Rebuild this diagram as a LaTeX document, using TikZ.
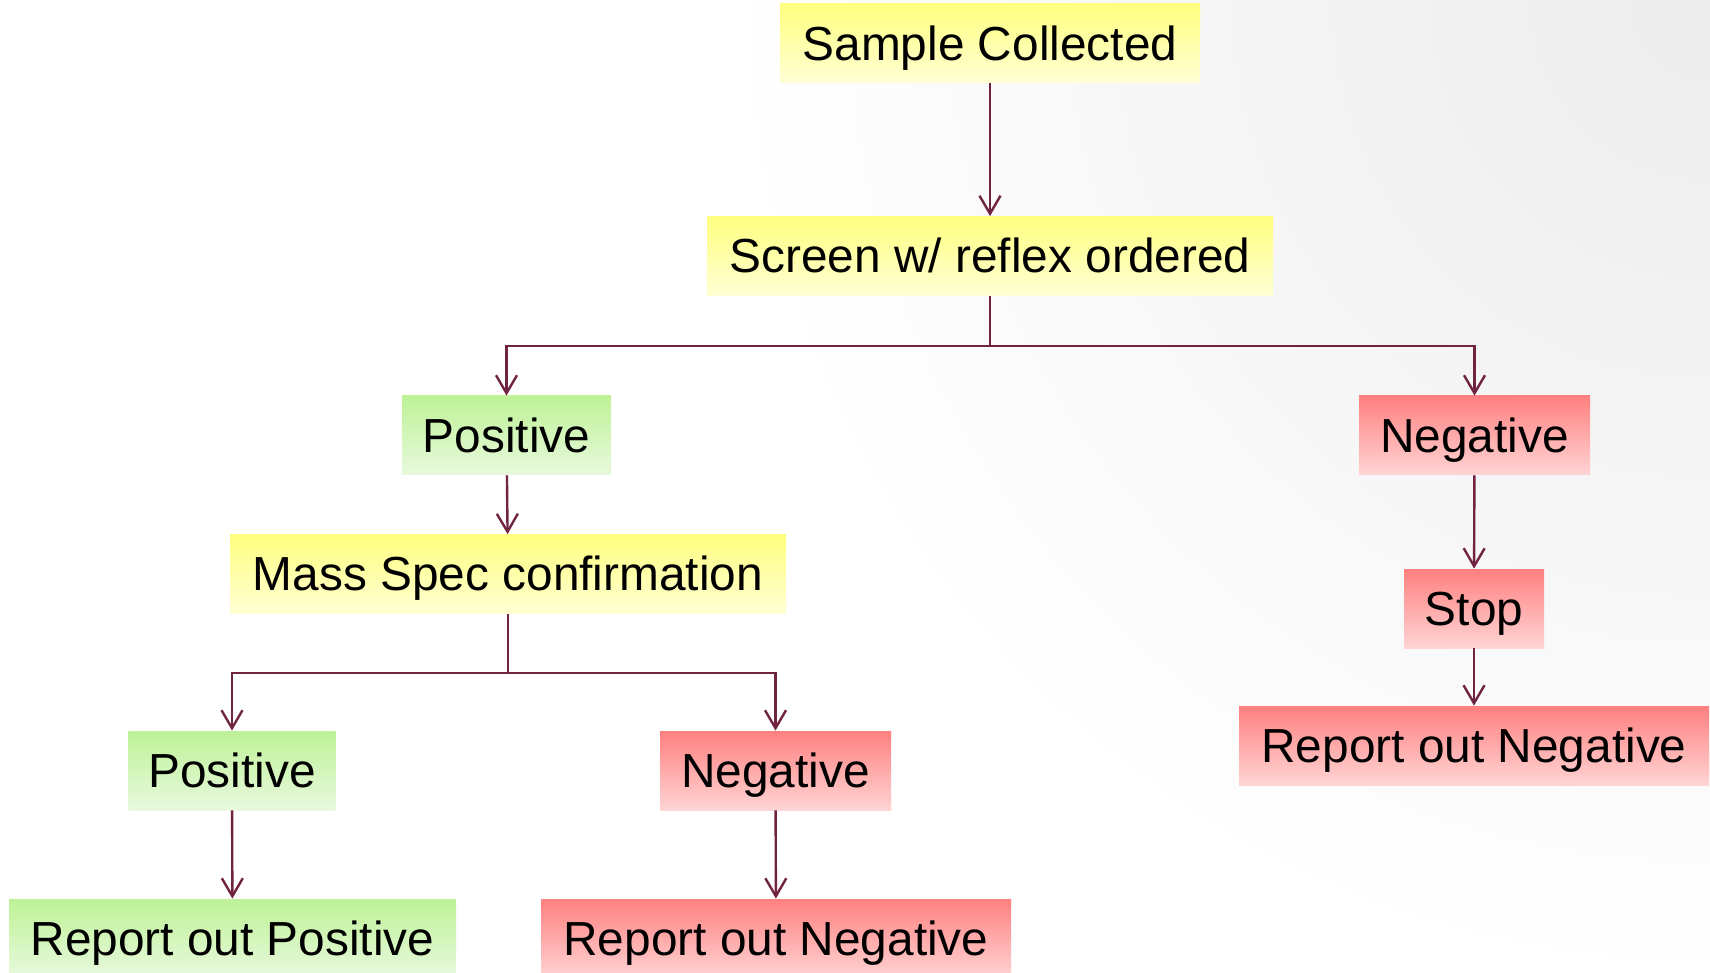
\documentclass[tikz,border=0pt]{standalone}
\usepackage{fontspec}
\setmainfont{Liberation Sans}
\usetikzlibrary{arrows.meta, positioning}
\definecolor{flowline}{RGB}{112,36,66}
\definecolor{yellowtop}{RGB}{255,255,128}
\definecolor{yellowbot}{RGB}{255,255,212}
\definecolor{greentop}{RGB}{190,242,150}
\definecolor{greenbot}{RGB}{232,249,222}
\definecolor{redtop}{RGB}{255,128,128}
\definecolor{redbot}{RGB}{255,212,212}

\begin{document}
\begin{tikzpicture}[x=0.5pt, y=-0.5pt,
    box/.style={rectangle, inner sep=0pt, minimum height=39.5pt,
      text height=16.7pt, text depth=0pt, font=\fontsize{23.9}{28}\selectfont},
    stepbox/.style={box, top color=yellowtop, bottom color=yellowbot},
    posbox/.style={box, top color=greentop, bottom color=greenbot},
    negbox/.style={box, top color=redtop, bottom color=redbot},
    link/.style={draw=flowline, line width=1.2pt},
    flow/.style={link, -{Straight Barb[length=9pt, width=10.5pt]}}]
  % page and background glow from the top right corner
  \useasboundingbox (0,0) rectangle (1710,973);
  \begin{scope}
    \clip (0,0) rectangle (1710,973);
    \fill[white] (0,0) rectangle (1710,973);
    \foreach \r in {1000,980,...,20} {
      \pgfmathsetmacro\g{7.5*(1-\r/1000)}
      \fill[black!\g] (1710,0) circle (\r);
    }
  \end{scope}

  \node[stepbox, minimum width=210pt] (sample) at (990,43.5) {Sample Collected};
  \node[stepbox, minimum width=283pt] (screen) at (990,256) {Screen w/ reflex ordered};

  \node[posbox, minimum width=104.5pt] (pos) at (506.5,435.5) {Positive};
  \node[negbox, minimum width=115.5pt] (neg) at (1474.5,435.5) {Negative};

  \node[stepbox, minimum width=278pt] (ms) at (508,574) {Mass Spec confirmation};
  \node[posbox, minimum width=103.5pt] (mspos) at (232,770.5) {Positive};
  \node[negbox, minimum width=115.5pt] (msneg) at (775.5,770.5) {Negative};

  \begin{scope}
    \clip (0,0) rectangle (1710,973);
    \node[posbox, minimum width=223.5pt] (rptpos) at (232.5,938.5) {Report out Positive};
    \node[negbox, minimum width=235pt] (rptneg) at (776,938.5) {Report out Negative};
  \end{scope}

  \node[negbox, minimum width=70pt] (stop) at (1474,608.5) {Stop};
  \node[negbox, minimum width=235pt] (stoprpt) at (1474,745.5) {Report out Negative};

  \coordinate (split) at (990,346);
  \coordinate (mssplit) at (508,673);

  \draw[flow] (sample) -- (screen);
  \draw[link] (screen) -- (split);
  \draw[flow] (split) -| (pos);
  \draw[flow] (split) -| (neg);
  \draw[flow] (pos) -- (ms);
  \draw[link] (ms) -- (mssplit);
  \draw[flow] (mssplit) -| (mspos);
  \draw[flow] (mssplit) -| (msneg);
  \draw[flow] (mspos) -- (rptpos);
  \draw[flow] (msneg) -- (rptneg);
  \draw[flow] (neg) -- (stop);
  \draw[flow] (stop) -- (stoprpt);
\end{tikzpicture}
\end{document}
